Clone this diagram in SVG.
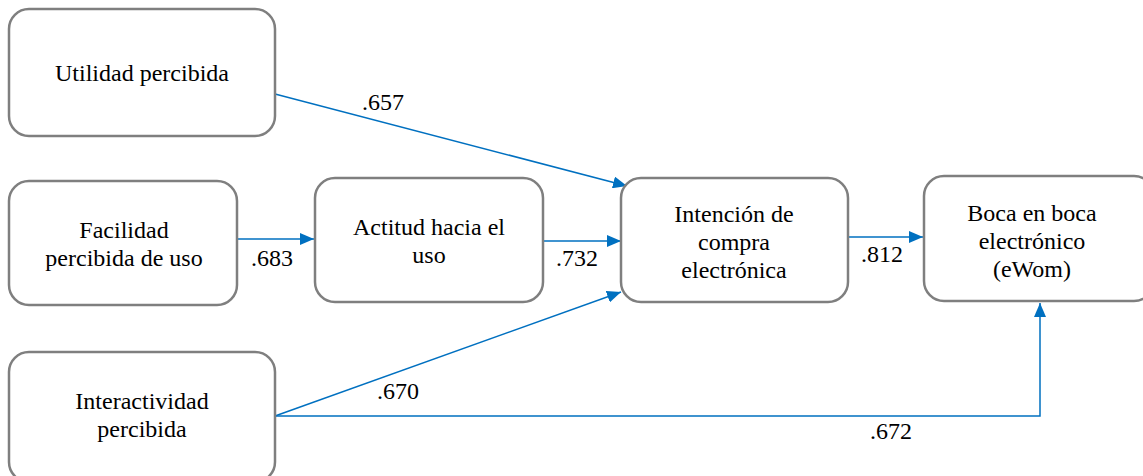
<svg xmlns="http://www.w3.org/2000/svg" width="1143" height="476" viewBox="0 0 1143 476">
<style>
.box{fill:#fff;stroke:#7f7f7f;stroke-width:2.5}
text{font-family:'Liberation Serif','Times New Roman',serif;font-size:24px;fill:#000;text-anchor:middle}
.c{fill:none;stroke:#0070C0;stroke-width:1.5}
</style>
<defs>
<marker id="a" viewBox="0 0 14 12" refX="14" refY="6" markerWidth="14" markerHeight="12" markerUnits="userSpaceOnUse" orient="auto">
<path d="M0,0 L14,6 L0,12 z" fill="#0070C0"/>
</marker>
</defs>
<g id="connectors">
<path class="c" d="M275,94 L627,186" marker-end="url(#a)"/>
<path class="c" d="M237,239 L314,239" marker-end="url(#a)"/>
<path class="c" d="M543,241 L621,241" marker-end="url(#a)"/>
<path class="c" d="M275,416 L621,292" marker-end="url(#a)"/>
<path class="c" d="M848,237 L923,237" marker-end="url(#a)"/>
<path class="c" d="M275,416 L1040,416 L1040,303" marker-end="url(#a)"/>
<text x="383" y="110">.657</text>
<text x="272" y="266">.683</text>
<text x="577" y="266">.732</text>
<text x="398" y="399">.670</text>
<text x="891" y="439">.672</text>
<text x="882" y="262">.812</text>
</g>
<g id="utilidad">
<rect class="box" x="9" y="9" width="266" height="127" rx="20"/>
<text x="142" y="81">Utilidad percibida</text>
</g>
<g id="facilidad">
<rect class="box" x="9" y="181" width="228" height="124" rx="20"/>
<text x="124" y="238">Facilidad</text>
<text x="124" y="266">percibida de uso</text>
</g>
<g id="actitud">
<rect class="box" x="315" y="178" width="228" height="124" rx="20"/>
<text x="429" y="235">Actitud hacia el</text>
<text x="429" y="263">uso</text>
</g>
<g id="intencion">
<rect class="box" x="621" y="178" width="227" height="124" rx="20"/>
<text x="734" y="222">Intención de</text>
<text x="734" y="250">compra</text>
<text x="734" y="278">electrónica</text>
</g>
<g id="boca">
<rect class="box" x="924" y="176" width="230" height="125" rx="20"/>
<text x="1032" y="221">Boca en boca</text>
<text x="1032" y="249">electrónico</text>
<text x="1032" y="277">(eWom)</text>
</g>
<g id="interactividad">
<rect class="box" x="9" y="352" width="266" height="130" rx="20"/>
<text x="142" y="409">Interactividad</text>
<text x="142" y="437">percibida</text>
</g>
</svg>
